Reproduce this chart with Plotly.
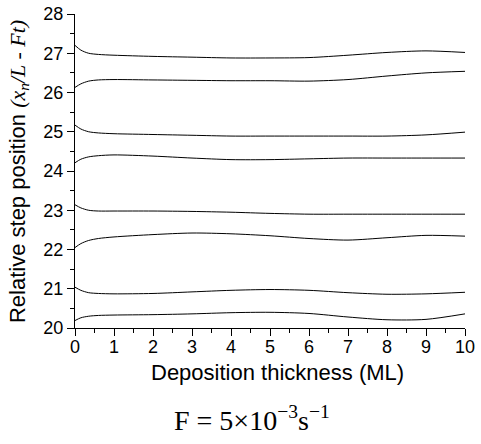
import plotly.graph_objects as go

x_vals = [0, 0.15, 0.35, 0.6, 1, 2, 3, 4, 5, 6, 7, 8, 9, 10]

step_1 = [27.20, 27.08, 27.00, 26.97, 26.95, 26.92, 26.90, 26.88, 26.88, 26.89, 26.95, 27.02, 27.06, 27.02]
step_2 = [26.13, 26.22, 26.29, 26.32, 26.33, 26.32, 26.31, 26.30, 26.30, 26.29, 26.33, 26.42, 26.50, 26.54]
step_3 = [25.17, 25.07, 25.00, 24.97, 24.95, 24.93, 24.91, 24.89, 24.89, 24.89, 24.89, 24.89, 24.92, 24.99]
step_4 = [24.21, 24.30, 24.36, 24.39, 24.41, 24.38, 24.33, 24.29, 24.29, 24.31, 24.33, 24.33, 24.33, 24.33]
step_5 = [23.14, 23.06, 23.00, 22.98, 22.98, 22.98, 22.97, 22.95, 22.92, 22.90, 22.90, 22.90, 22.90, 22.90]
step_6 = [22.05, 22.15, 22.23, 22.28, 22.32, 22.38, 22.42, 22.40, 22.35, 22.28, 22.24, 22.30, 22.36, 22.34]
step_7 = [21.04, 20.96, 20.90, 20.88, 20.87, 20.88, 20.92, 20.96, 20.98, 20.96, 20.90, 20.86, 20.87, 20.91]
step_8 = [20.19, 20.26, 20.30, 20.32, 20.33, 20.34, 20.36, 20.39, 20.40, 20.37, 20.28, 20.21, 20.22, 20.36]

steps = [step_1, step_2, step_3, step_4, step_5, step_6, step_7, step_8]

x_ticks = list(range(0, 11))
y_ticks = list(range(20, 29))

fig = go.Figure()
for s in steps:
    fig.add_trace(go.Scatter(x=x_vals, y=s, mode="lines",
                             line=dict(color="black", width=1, shape="spline", smoothing=0.8),
                             showlegend=False, hoverinfo="skip"))

axis_common = dict(showline=True, linecolor="black", linewidth=1, showgrid=False, zeroline=False,
                   ticks="outside", ticklen=7, tickcolor="black", tickwidth=1, automargin=False,
                   tickfont=dict(family="Liberation Sans, Arial", size=18, color="black"),
                   minor=dict(ticks="outside", ticklen=4, tickcolor="black", tickwidth=1, dtick=0.5))

fig.update_xaxes(range=[0, 10], tickvals=x_ticks, ticklabelstandoff=-5, **axis_common)
fig.update_yaxes(range=[20, 28], tickvals=y_ticks, **axis_common)

fig.add_annotation(text="Deposition thickness (ML)", xref="paper", yref="paper", x=0.518, y=-0.141,
                   xanchor="center", yanchor="middle", showarrow=False,
                   font=dict(family="Liberation Sans, Arial", size=22, color="black"))

fig.add_annotation(text='Relative step position <span style="font-family:Liberation Serif;font-style:italic">(x<sub>n</sub>/L - Ft)</span>',
                   xref="paper", yref="paper", x=-0.145, y=0.498, textangle=-90,
                   xanchor="center", yanchor="middle", showarrow=False,
                   font=dict(family="Liberation Sans, Arial", size=22, color="black"))

fig.add_annotation(text="F = 5×10<sup>−3</sup>s<sup>−1</sup>", xref="paper", yref="paper", x=0.454, y=-0.287,
                   xanchor="center", yanchor="middle", showarrow=False,
                   font=dict(family="Liberation Serif, Times New Roman", size=28, color="black"))

fig.update_layout(width=481, height=444, margin=dict(l=75, r=16, t=14, b=116),
                  plot_bgcolor="white", paper_bgcolor="white")

fig.write_html("out.html", config={"displayModeBar": False},
               post_script="document.body.style.margin='0';document.body.style.overflow='hidden';")
